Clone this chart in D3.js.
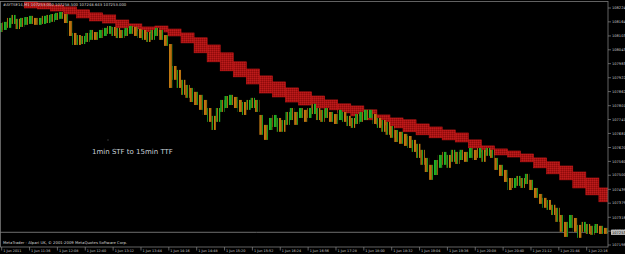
<!DOCTYPE html>
<html>
<head>
<meta charset="utf-8">
<script src="https://cdn.jsdelivr.net/npm/d3@7"></script>
<style>
  html, body { margin: 0; padding: 0; background: #000; overflow: hidden; }
  text { font-family: "DejaVu Sans", sans-serif; }
</style>
</head>
<body>
<div id="chart"></div>
<script>
// 5-minute bars from 11:00
const barStart = "11:00";
const highs = [
  108159,108164,108181,108194,108177,108181,108185,108190,108181,108181,108190,108194,108198,108203,108207,108198,
  108168,108116,108107,108103,108116,108129,108120,108129,108138,108146,108142,108138,108129,108138,108146,108142,108133,108129,108120,108129,108138,108129,108107,
  108068,107973,107956,107913,107891,107878,107861,107848,107826,107791,107757,107791,107826,107843,107848,107839,107826,107817,107826,107835,107826,
  107761,107718,107748,107761,107748,107739,107774,107791,107774,107791,107783,107791,107809,107791,107783,107791,107774,107765,107783,107774,107757,107748,107765,107774,107783,107783,
  107765,107748,107739,107731,107713,107696,107688,107679,107670,107653,107636,107610,107575,107545,107566,107588,107601,107588,107610,107601,107610,107601,107618,107610,107618,107610,107618,107610,
  107575,107545,107523,107488,107488,107497,107488,107506,107480,107445,107419,107402,107393,107372,107359,107328,107298,107328,107315,107285,107298,107289,107281,107289,107281,107272
];
const lows = [
  108120,108129,108138,108155,108133,108142,108151,108155,108151,108151,108155,108159,108164,108172,108177,108159,
  108103,108064,108064,108068,108077,108086,108086,108094,108103,108112,108103,108094,108094,108103,108112,108103,108094,108086,108077,108086,108103,108086,108060,
  107878,107913,107878,107848,107835,107817,107804,107783,107761,107731,107696,107731,107774,107791,107804,107791,107774,107761,107783,107791,107774,
  107675,107653,107696,107709,107688,107688,107718,107739,107718,107748,107731,107748,107765,107739,107731,107748,107731,107722,107739,107731,107713,107705,107722,107731,107739,107748,
  107722,107705,107688,107675,107662,107644,107636,107627,107618,107601,107575,107545,107514,107480,107501,107532,107545,107532,107558,107549,107566,107558,107575,107566,107575,107558,107584,107575,
  107523,107497,107471,107436,107445,107454,107445,107462,107436,107402,107376,107359,107350,107328,107298,107255,107233,107272,107255,107229,107255,107246,107242,107250,107246,107246
];

// 15-minute boxes from 11:30
const boxStart = "11:30";
const boxHigh = [
  108250,108246,108237,108229,108216,108203,108194,108172,108155,108142,108146,108133,108116,108095,108064,
  108030,107991,107960,107930,107904,107878,107861,107843,107826,107809,107800,107783,107761,107748,107740,
  107722,107709,107696,107683,107653,107627,107614,107605,107592,107575,107558,107540,107514,107488,107445
];
const boxLow = [
  108224,108220,108211,108198,108181,108168,108159,108138,108125,108116,108120,108103,108073,108030,107991,
  107952,107926,107895,107856,107839,107817,107804,107791,107783,107770,107757,107740,107718,107705,107688,
  107675,107662,107653,107644,107618,107601,107588,107579,107558,107532,107506,107480,107445,107415,107385
];

const priceTicks = [108224,108164,108103,108043,107983,107922,107862,107801,107741,107681,107620,107560,107500,107439,107379,107318,107258,107198];
const timeTicks = ["11:04","11:36","12:08","12:40","13:12","13:44","14:16","14:48","15:20","15:52","16:24","16:56","17:28","18:00","18:32","19:04","19:36","20:08","20:40","21:12","21:44","22:16"];
const timeLabels = ["1 Jun 2011","1 Jun 11:36","1 Jun 12:08","1 Jun 12:40","1 Jun 13:12","1 Jun 13:44","1 Jun 14:16","1 Jun 14:48","1 Jun 15:20","1 Jun 15:52","1 Jun 16:24","1 Jun 16:56","1 Jun 17:28","1 Jun 18:00","1 Jun 18:32","1 Jun 19:04","1 Jun 19:36","1 Jun 20:08","1 Jun 20:40","1 Jun 21:12","1 Jun 21:44","1 Jun 22:16"];
const lastPrice = 107253;
const headerText = "#AYTSE14,M1  107253.000 107258.500 107248.643 107253.000";
const noteText = "1min STF to 15min TTF";
const footerText = "MetaTrader - Alpari UK, \u00a9 2001-2009 MetaQuotes Software Corp.";

const W = 625, H = 254;
const plotR = 608, plotT = 1.5, plotB = 247;
const parse = d3.timeParse("%H:%M");

let x = d3.scaleTime()
  .domain([parse("11:04"), parse("22:16")])
  .range([1.7, 586.7]);

let y = d3.scaleLinear()
  .domain([108224, 107198])
  .range([8, 245]);

let svg = d3.select("#chart")
  .append("svg")
  .attr("width", W)
  .attr("height", H)
  .style("display", "block")
  .style("background", "#000");

let defs = svg.append("defs");
defs.append("clipPath").attr("id", "plot")
  .append("rect").attr("x", 0).attr("y", plotT).attr("width", plotR).attr("height", plotB - plotT);

// dotted red fill of the 15 min boxes
let pat = defs.append("pattern")
  .attr("id", "boxfill")
  .attr("width", 2).attr("height", 2)
  .attr("patternUnits", "userSpaceOnUse");
pat.append("rect").attr("width", 2).attr("height", 2).attr("fill", "#a81212");
pat.append("rect").attr("width", 1).attr("height", 1).attr("fill", "#bc1c1c");
pat.append("rect").attr("x", 1).attr("y", 1).attr("width", 1).attr("height", 1).attr("fill", "#8c0c0c");

// striped fills so the 5 min bars look like packed 1 min bars
function stripes(id, cols) {
  let p = defs.append("pattern")
    .attr("id", id)
    .attr("width", cols.length).attr("height", 4)
    .attr("patternUnits", "userSpaceOnUse");
  cols.forEach((c, i) => {
    p.append("rect").attr("x", i).attr("width", 1).attr("height", 4).attr("fill", c);
  });
}
stripes("upfill", ["#22a322", "#1b8c1b", "#a8680e", "#000", "#26b026"]);
stripes("dnfill", ["#b8700e", "#9c5e0a", "#1f9a1f", "#000", "#c27812"]);

let plot = svg.append("g").attr("clip-path", "url(#plot)");

// current price line
plot.append("line")
  .attr("x1", 0).attr("x2", plotR)
  .attr("y1", y(lastPrice)).attr("y2", y(lastPrice))
  .attr("stroke", "#8a8a8a").attr("stroke-width", 0.8);

// 15 min boxes
let boxes = boxHigh.map((h, i) => ({
  t0: d3.timeMinute.offset(parse(boxStart), 15 * i),
  t1: d3.timeMinute.offset(parse(boxStart), 15 * (i + 1)),
  hi: h, lo: boxLow[i]
}));

plot.selectAll("rect.box")
  .data(boxes)
  .enter()
  .append("rect")
  .attr("class", "box")
  .attr("x", d => x(d.t0))
  .attr("width", d => x(d.t1) - x(d.t0))
  .attr("y", d => y(d.hi))
  .attr("height", d => y(d.lo) - y(d.hi))
  .attr("fill", "url(#boxfill)")
  .attr("stroke", "#c41818")
  .attr("stroke-width", 0.6);

// price bars
let bars = highs.map((h, i) => ({
  t0: d3.timeMinute.offset(parse(barStart), 5 * i),
  t1: d3.timeMinute.offset(parse(barStart), 5 * (i + 1)),
  hi: h, lo: lows[i]
}));
bars.forEach((d, i) => {
  let mid = (d.hi + d.lo) / 2;
  let prev = i > 0 ? (bars[i - 1].hi + bars[i - 1].lo) / 2 : mid;
  d.up = mid >= prev;
});

plot.selectAll("rect.bar")
  .data(bars)
  .enter()
  .append("rect")
  .attr("class", "bar")
  .attr("x", d => x(d.t0))
  .attr("width", d => x(d.t1) - x(d.t0))
  .attr("y", d => y(d.hi))
  .attr("height", d => y(d.lo) - y(d.hi))
  .attr("fill", d => d.up ? "url(#upfill)" : "url(#dnfill)");

// frame
svg.append("rect")
  .attr("x", 0.5).attr("y", plotT)
  .attr("width", plotR - 0.5).attr("height", plotB - plotT)
  .attr("fill", "none").attr("stroke", "#7a7a7a").attr("stroke-width", 0.8);

// price axis
let yAxis = svg.append("g").attr("transform", "translate(" + plotR + ",0)");
yAxis.selectAll("line")
  .data(priceTicks)
  .enter()
  .append("line")
  .attr("x1", 0).attr("x2", 3)
  .attr("y1", d => y(d)).attr("y2", d => y(d))
  .attr("stroke", "#8a8a8a").attr("stroke-width", 0.7);
yAxis.selectAll("text")
  .data(priceTicks)
  .enter()
  .append("text")
  .attr("x", 4)
  .attr("y", d => y(d))
  .attr("dy", "0.35em")
  .attr("fill", "#c8c8c8")
  .style("font-size", "3.6px")
  .text(d => d);

// last price label
yAxis.append("rect")
  .attr("x", 3).attr("y", y(lastPrice) - 2.6)
  .attr("width", 14).attr("height", 5.2)
  .attr("fill", "#bfbfbf");
yAxis.append("text")
  .attr("x", 4).attr("y", y(lastPrice)).attr("dy", "0.35em")
  .attr("fill", "#000")
  .style("font-size", "3.6px")
  .text(lastPrice);

// time axis
let xAxis = svg.append("g").attr("transform", "translate(0," + plotB + ")");
let ticks = timeTicks.map((t, i) => ({ t: parse(t), label: timeLabels[i] }));
xAxis.selectAll("line")
  .data(ticks)
  .enter()
  .append("line")
  .attr("x1", d => x(d.t)).attr("x2", d => x(d.t))
  .attr("y1", 0).attr("y2", 3.5)
  .attr("stroke", "#8a8a8a").attr("stroke-width", 0.7);
xAxis.selectAll("text")
  .data(ticks)
  .enter()
  .append("text")
  .attr("x", d => x(d.t) + 1.5)
  .attr("y", 4.6)
  .attr("fill", "#c8c8c8")
  .style("font-size", "3.4px")
  .text(d => d.label);

// texts
svg.append("text")
  .attr("x", 3).attr("y", 5.5)
  .attr("fill", "#d8d8d8")
  .style("font-size", "3.8px")
  .text(headerText);

svg.append("text")
  .attr("x", 3).attr("y", 244)
  .attr("fill", "#d8d8d8")
  .style("font-size", "3.8px")
  .text(footerText);

svg.append("text")
  .attr("x", 92).attr("y", 154)
  .attr("fill", "#c8d0d8")
  .style("font-size", "7px")
  .text(noteText);

svg.append("rect")
  .attr("x", 107.5).attr("y", 139.5).attr("width", 1).attr("height", 1)
  .attr("fill", "#606060");
</script>
</body>
</html>
